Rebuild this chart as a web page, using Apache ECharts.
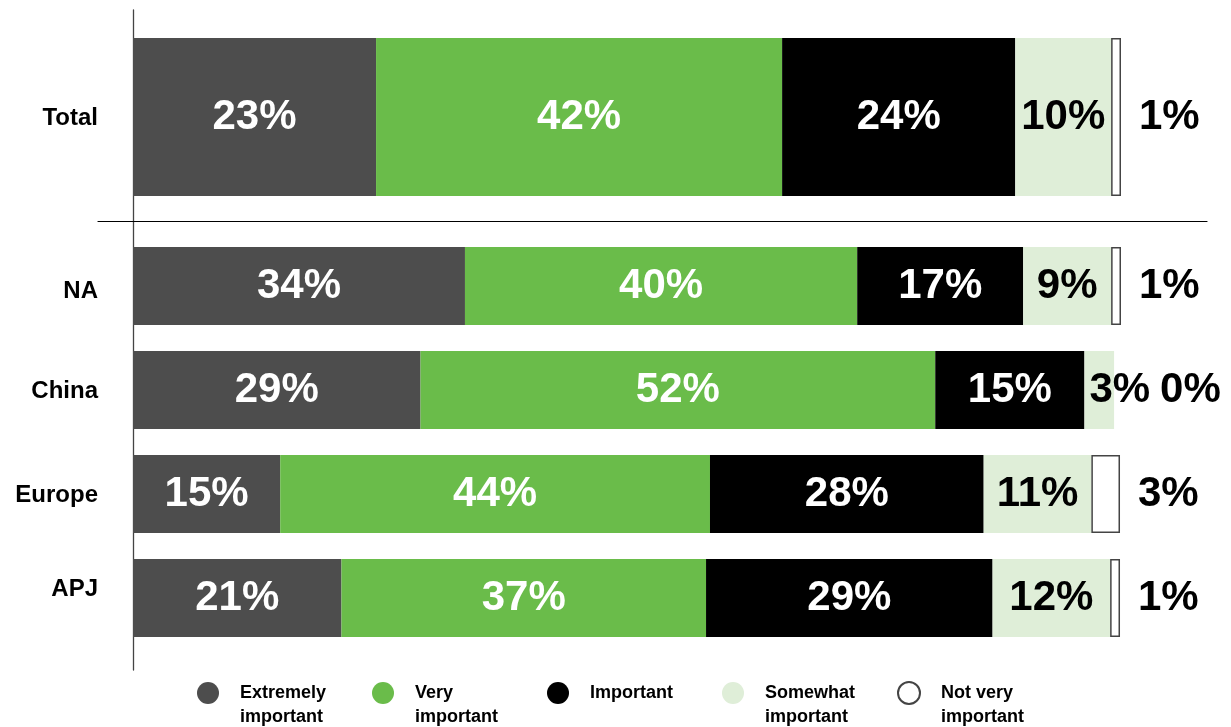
<!DOCTYPE html>
<html>
<head>
<meta charset="utf-8">
<script src="https://cdn.jsdelivr.net/npm/echarts@6/dist/echarts.min.js"></script>
<style>
  html, body { margin: 0; padding: 0; background: #fff; }
  #chart { width: 1231px; height: 727px; }
</style>
</head>
<body>
<div id="chart"></div>
<script>
// ---- data (order: Total, NA, China, Europe, APJ) ----
const categories = ['Total', 'NA', 'China', 'Europe', 'APJ'];
const seriesNames = ['Extremely important', 'Very important', 'Important', 'Somewhat important', 'Not very important'];
const legendLabels = ['Extremely\nimportant', 'Very\nimportant', 'Important\n ', 'Somewhat\nimportant', 'Not very\nimportant'];

// bar lengths (percent of the full bar)
const extremelyValues = [24.6, 33.6, 29.1, 14.9, 21.1];
const veryValues      = [41.1, 39.7, 52.1, 43.5, 36.9];
const importantValues = [23.6, 16.8, 15.1, 27.7, 29.0];
const somewhatValues  = [9.7, 8.9, 3.0, 10.9, 11.9];
const notVeryValues   = [1.0, 1.0, 0, 2.9, 1.0];

// printed labels
const extremelyLabels = [23, 34, 29, 15, 21];
const veryLabels      = [42, 40, 52, 44, 37];
const importantLabels = [24, 17, 15, 28, 29];
const somewhatLabels  = [10, 9, 3, 11, 12];
const notVeryLabels   = [1, 1, 0, 3, 1];

const values = [extremelyValues, veryValues, importantValues, somewhatValues, notVeryValues];
const labels = [extremelyLabels, veryLabels, importantLabels, somewhatLabels, notVeryLabels];
const colors = ['#4d4d4d', '#6abc4a', '#000000', '#dfeed8', '#ffffff'];
const labelColors = ['#ffffff', '#ffffff', '#ffffff', '#000000', '#000000'];

const FONT = '"Liberation Sans", Arial, Helvetica, sans-serif';

function buildSeries(s, group) {
  // group 0 = Total (index 0), group 1 = regions (index 1..4)
  const idx = group === 0 ? [0] : [1, 2, 3, 4];
  const data = idx.map(function (i) {
    const item = { value: values[s][i], lbl: labels[s][i] };
    if (categories[i] === 'China' && s === 3) {
      item.label = { position: 'insideLeft', distance: 5 };
    }
    if (categories[i] === 'China' && s === 4) {
      item.label = { distance: 46 };
      item.itemStyle = { borderWidth: 0 };
    }
    return item;
  });
  return {
    name: seriesNames[s],
    type: 'bar',
    stack: group === 0 ? 'total' : 'region',
    xAxisIndex: group,
    yAxisIndex: group,
    barWidth: group === 0 ? 158 : 78,
    data: data,
    itemStyle: {
      color: colors[s],
      borderColor: s === 4 ? '#444444' : colors[s],
      borderWidth: s === 4 ? 1.5 : 0
    },
    label: {
      show: true,
      position: s === 4 ? 'right' : 'inside',
      distance: s === 4 ? 18 : 5,
      color: labelColors[s],
      fontFamily: FONT,
      fontWeight: 'bold',
      fontSize: 42,
      formatter: function (p) { return p.data.lbl + '%'; }
    },
    emphasis: { disabled: true },
    silent: true,
    animation: false
  };
}

const series = [];
for (let g = 0; g < 2; g++) {
  for (let s = 0; s < 5; s++) series.push(buildSeries(s, g));
}

const hiddenValueX = function (gi) {
  return {
    type: 'value', gridIndex: gi, min: 0, max: 100,
    axisLine: { show: false }, axisTick: { show: false },
    axisLabel: { show: false }, splitLine: { show: false }
  };
};
const catLabelStyle = { color: '#000', fontFamily: FONT, fontWeight: 'bold', fontSize: 24 };
const catY = function (gi, cats) {
  return {
    type: 'category', gridIndex: gi, data: cats, inverse: true,
    axisLine: { show: false }, axisTick: { show: false },
    axisLabel: Object.assign({
      margin: 35,
      formatter: function (v) {
        if (v === 'NA') return '{down|' + v + '}';
        if (v === 'APJ') return '{up|' + v + '}';
        return '{n|' + v + '}';
      },
      rich: {
        n: Object.assign({ padding: [3, 0, 0, 0] }, catLabelStyle),
        down: Object.assign({ padding: [10, 0, 0, 0] }, catLabelStyle),
        up: Object.assign({ padding: [0, 0, 18, 0] }, catLabelStyle)
      }
    }, catLabelStyle)
  };
};

const option = {
  backgroundColor: '#ffffff',
  animation: false,
  grid: [
    { left: 133, width: 988, top: 10, height: 214 },
    { left: 133, width: 988, top: 234, height: 416 },
    { left: 133, width: 988, top: 10, height: 660 },
    { left: 98, width: 1109, top: 10, height: 211 }
  ],
  xAxis: [
    hiddenValueX(0),
    hiddenValueX(1),
    {
      type: 'value', gridIndex: 2, min: 0, max: 1,
      axisLine: { show: false }, axisTick: { show: false },
      axisLabel: { show: false }, splitLine: { show: false }
    },
    {
      type: 'value', gridIndex: 3, min: 0, max: 1, position: 'bottom',
      axisLine: { show: true, lineStyle: { color: '#000', width: 1.2 } },
      axisTick: { show: false }, axisLabel: { show: false }, splitLine: { show: false }
    }
  ],
  yAxis: [
    catY(0, categories.slice(0, 1)),
    catY(1, categories.slice(1)),
    {
      type: 'value', gridIndex: 2, min: 0, max: 1, position: 'left',
      axisLine: { show: true, lineStyle: { color: '#444', width: 1.3 } },
      axisTick: { show: false }, axisLabel: { show: false }, splitLine: { show: false }
    },
    {
      type: 'value', gridIndex: 3, min: 0, max: 1,
      axisLine: { show: false }, axisTick: { show: false },
      axisLabel: { show: false }, splitLine: { show: false }
    }
  ],
  legend: {
    data: seriesNames,
    left: 192,
    top: 676,
    orient: 'horizontal',
    icon: 'path://M11,0 A11,11 0 1,1 11,22 A11,11 0 1,1 11,0 Z M11,46 L11,46',
    itemWidth: 22,
    itemHeight: 46,
    itemGap: 22,
    selectedMode: false,
    formatter: function (name) { return legendLabels[seriesNames.indexOf(name)]; },
    textStyle: {
      color: '#000', fontFamily: FONT, fontWeight: 'bold', fontSize: 18,
      lineHeight: 24, width: 110, padding: [0, 0, 0, 16]
    }
  },
  series: series
};

const chart = echarts.init(document.getElementById('chart'), null, { renderer: 'canvas' });
chart.setOption(option);
</script>
</body>
</html>
